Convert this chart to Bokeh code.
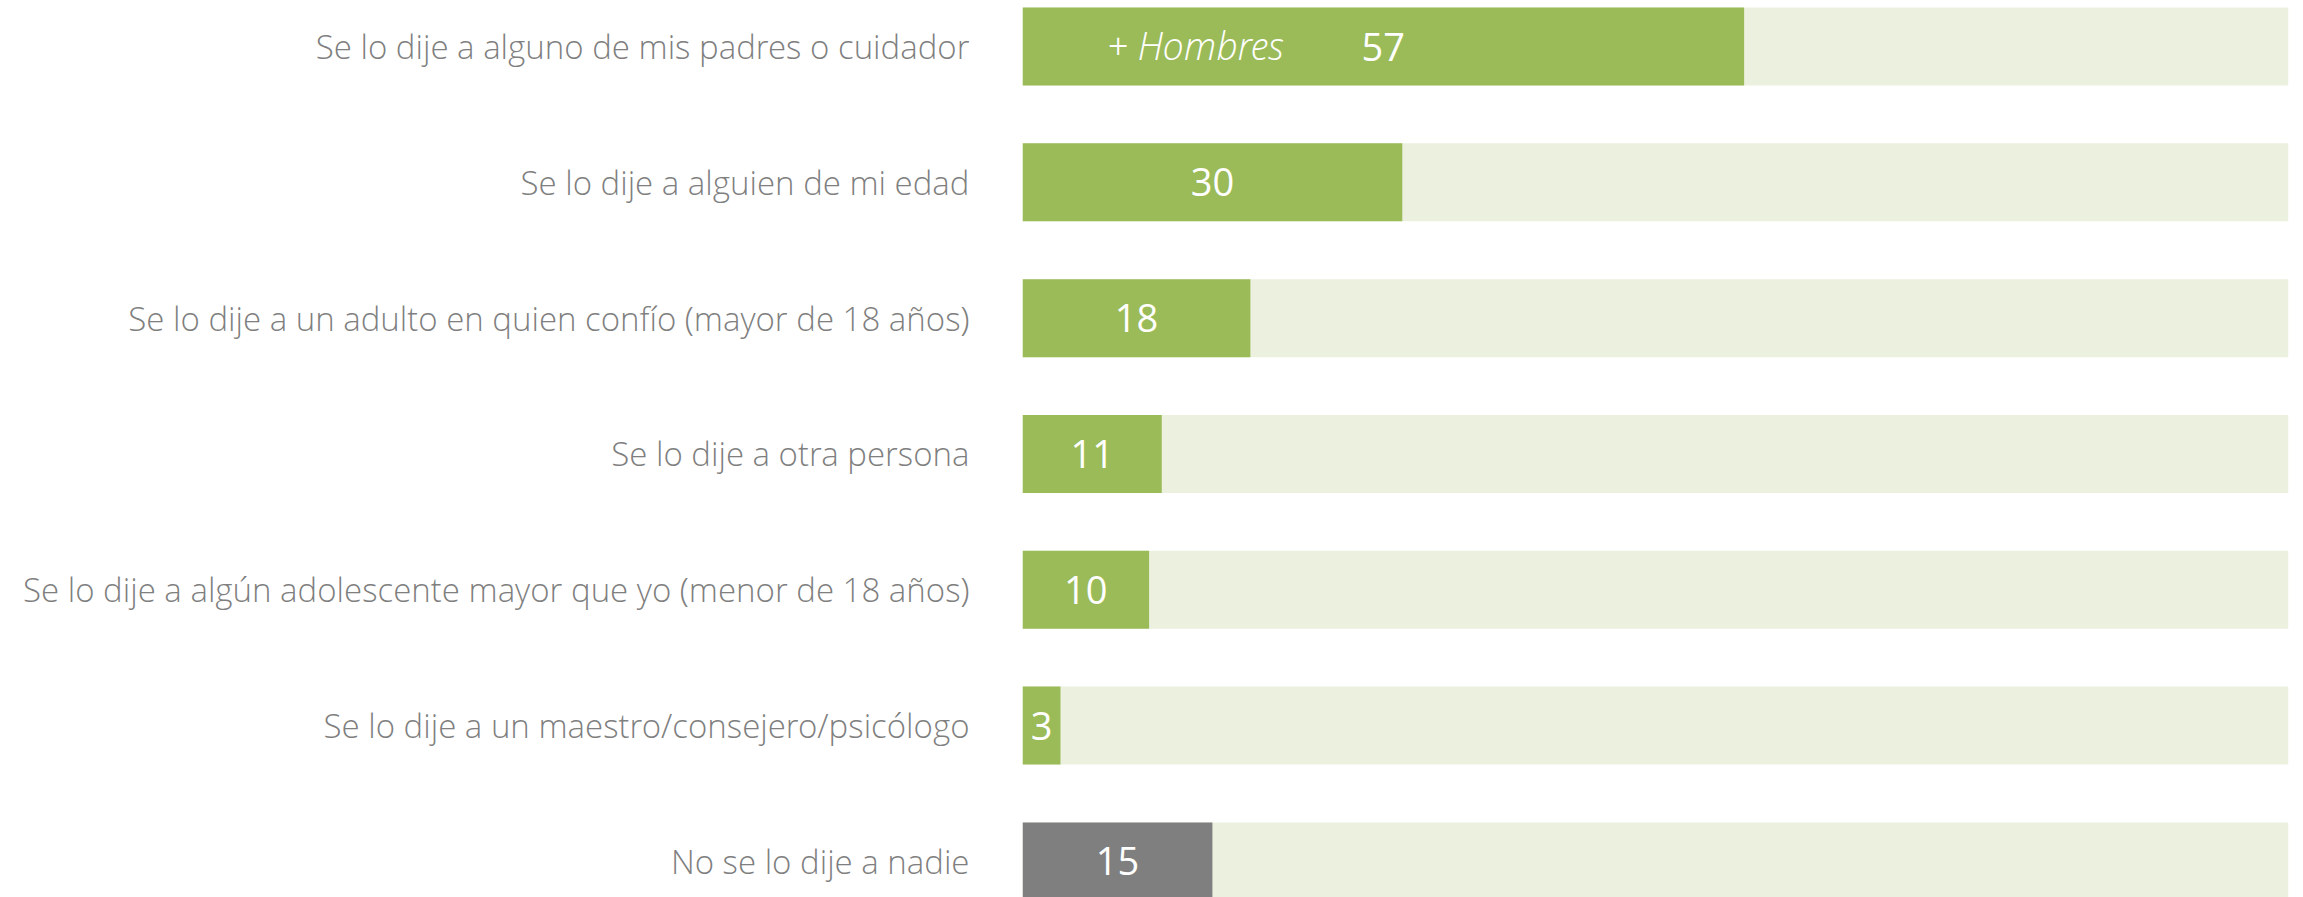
from bokeh.plotting import figure
from bokeh.models import Range1d, FixedTicker, ColumnDataSource
from bokeh.core.properties import value
from bokeh.embed import file_html
from bokeh.resources import INLINE

categories = [
    "Se lo dije a alguno de mis padres o cuidador",
    "Se lo dije a alguien de mi edad",
    "Se lo dije a un adulto en quien confío (mayor de 18 años)",
    "Se lo dije a otra persona",
    "Se lo dije a algún adolescente mayor que yo (menor de 18 años)",
    "Se lo dije a un maestro/consejero/psicólogo",
    "No se lo dije a nadie",
]
values = [57, 30, 18, 11, 10, 3, 15]
total = 100
note_text = "+ Hombres"

GREEN = "#9BBB59"
GREY = "#7F7F7F"
BG = "#EBF1DE"
LABEL = "#7F7F7F"

n = len(categories)
ypos = [n - 1 - i for i in range(n)]
colors = [GREY if c == "No se lo dije a nadie" else GREEN for c in categories]

src = ColumnDataSource(dict(
    y=ypos,
    v=values,
    mid=[v / 2 for v in values],
    txt=[str(v) for v in values],
    total=[total] * n,
    color=colors,
))

p = figure(
    width=2296, height=897,
    x_range=Range1d(0, total), y_range=Range1d(-0.266, 6.339),
    output_backend="svg", toolbar_location=None,
    min_border_left=1022, min_border_right=8,
    min_border_top=0, min_border_bottom=0,
)
p.outline_line_color = None
p.grid.visible = False
p.xaxis.visible = False

bh = 0.574
p.hbar(y="y", left=0, right="total", height=bh, source=src,
       fill_color=BG, line_color=None)
p.hbar(y="y", left=0, right="v", height=bh, source=src,
       fill_color="color", line_color=None)

p.text(x="mid", y="y", text="txt", source=src,
       text_align="center", text_baseline="middle",
       text_color="white", text_font=value("Open Sans"),
       text_font_size="38px")

p.text(x=[values[0] / 2], y=[ypos[0]], text=[note_text],
       x_offset=-100, y_offset=-2,
       text_align="right", text_baseline="middle",
       text_color="white", text_font=value("Open Sans Light, Open Sans"),
       text_font_style="italic", text_font_size="38px")

ax = p.yaxis[0]
ax.ticker = FixedTicker(ticks=ypos)
ax.major_label_overrides = {y: c for y, c in zip(ypos, categories)}
ax.axis_line_color = None
ax.major_tick_line_color = None
ax.minor_tick_line_color = None
ax.major_tick_out = 0
ax.major_tick_in = 0
ax.minor_tick_out = 0
ax.major_label_standoff = 53
ax.major_label_text_font = "Open Sans Light, Open Sans"
ax.major_label_text_font_size = "33px"
ax.major_label_text_color = LABEL

open("out.html", "w").write(file_html(p, INLINE))
